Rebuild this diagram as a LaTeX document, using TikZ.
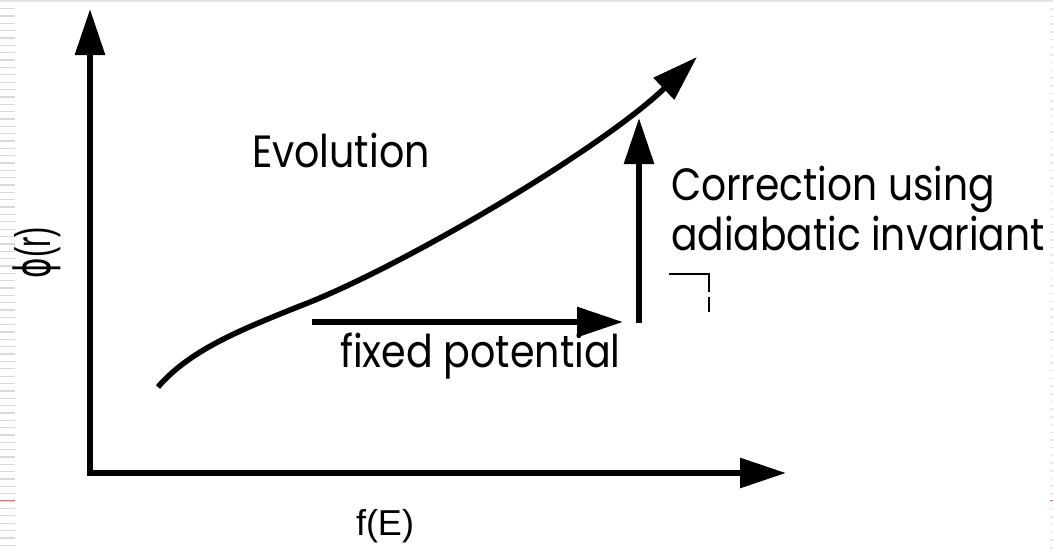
\documentclass[tikz,border=0pt]{standalone}
\usepackage{fontspec}
\usetikzlibrary{arrows.meta}
\newfontfamily\gothic{Poppins}
\newfontfamily\arialf{Liberation Sans}
\newfontfamily\dejavu{DejaVu Sans}
\begin{document}
\begin{tikzpicture}[x=1pt,y=-1pt,
  thickline/.style={line width=6pt,line join=miter},
  head/.style={-{Triangle[length=46pt,width=29pt]}},
  txt/.style={inner sep=0pt,outer sep=0pt,anchor=base west,font=\gothic\fontsize{40}{40}\selectfont},
  axlab/.style={inner sep=0pt,outer sep=0pt,font=\arialf\fontsize{36}{36}\selectfont}]
\useasboundingbox (0,0) rectangle (1053,549);
\fill[white] (0,0) rectangle (1053,549);
% slide artefacts
\fill[black!10] (0,0) rectangle (1053,2);
\foreach \i in {0,...,73} {\fill[black!15] (0,8+7.35*\i) rectangle (15,9.3+7.35*\i);}
\foreach \i in {0,...,70} {\fill[black!10] (1050,8+7.7*\i) rectangle (1053,9.5+7.7*\i);}
\fill[red!60!white] (0,499.5) rectangle (15,501);
\fill[red!60!white] (1050,499.5) rectangle (1053,501);
% coordinates
\coordinate (O) at (90,473);
\coordinate (ytip) at (90,9);
\coordinate (xtip) at (786,473);
\coordinate (cstart) at (158,387);
\coordinate (cmid) at (300,306);
\coordinate (ctip) at (697,57);
\coordinate (hstart) at (312,322);
\coordinate (htip) at (623,322);
\coordinate (vstart) at (639,323);
\coordinate (vtip) at (639,118);
% axes
\draw[thickline,{Triangle[length=46pt,width=29pt]}-{Triangle[length=46pt,width=29pt]}] (ytip) -- (O) -- (xtip);
% curve
\draw[line width=5.5pt,head] (cstart) .. controls (190,350) and (240,330) .. (cmid)
  .. controls (400,268) and (600,150) .. (ctip);
% arrows
\draw[thickline,head] (hstart) -- (htip);
\draw[thickline,head] (vstart) -- (vtip);
% small mark
\draw[line width=1.3pt] (669,274) -- (709,274) -- (709,292);
\draw[line width=1.3pt] (709,297) -- (709,312);
% labels
\node[txt] (evo) at (252,167) {\scalebox{0.99}[1.13]{Evolution}};
\node[txt] (corr1) at (671,200) {\scalebox{0.98}[1.13]{Correction using}};
\node[txt] (corr2) at (671,250) {\scalebox{0.98}[1.13]{adiabatic invariant}};
\node[txt] (fixed) at (340,367) {\scalebox{0.99}[1.13]{fixed potential}};
\node[axlab,anchor=base west] (fe) at (356,535) {f(E)};
\node[axlab,rotate=90,anchor=center] (phi) at (36.5,252.5) {\scalebox{0.86}[1.38]{{\dejavu ϕ}(r)}};
\end{tikzpicture}
\end{document}
